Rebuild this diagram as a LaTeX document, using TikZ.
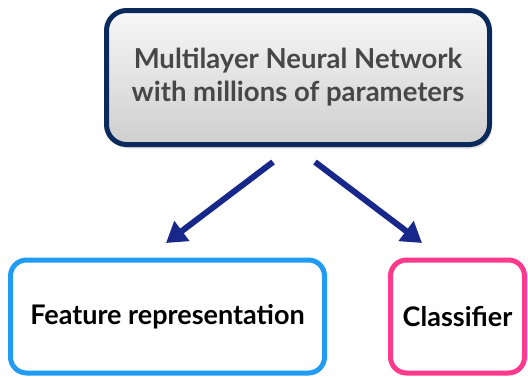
\documentclass[tikz,border=0pt]{standalone}
\usepackage{fontspec}
\setmainfont{Lato}
\usepackage{tikz}
\usetikzlibrary{arrows.meta, shadows, positioning}

\definecolor{navyborder}{HTML}{0B2A5C}
\definecolor{arrowblue}{HTML}{18288A}
\definecolor{featblue}{HTML}{229BF5}
\definecolor{classpink}{HTML}{FF3A8C}
\definecolor{textgray}{HTML}{474747}

\tikzset{
  netbox/.style={draw=navyborder, line width=5pt, rounded corners=20pt,
    top color=gray!6, bottom color=gray!38, drop shadow={opacity=0.25,
    shadow xshift=2pt, shadow yshift=-4pt},
    minimum width=383pt, minimum height=134pt, align=center,
    text=textgray, font=\fontsize{27.5}{33}\selectfont\bfseries},
  partbox/.style={line width=5pt, rounded corners=16pt, fill=white,
    minimum height=113pt, font=\fontsize{27}{30}\selectfont\bfseries},
  splitarrow/.style={draw=arrowblue, line width=6pt,
    -{Triangle[length=20pt, width=24pt]}}
}

\begin{document}
\begin{tikzpicture}[x=1pt, y=-1pt]
        % Cadre de l'image
        \useasboundingbox (0,0) rectangle (528,376);
        \clip (0,0) rectangle (528,376);

        % Reseau principal
        \node[netbox] (net) at (298,77.5) {Multilayer Neural Network\\with millions of parameters};

        % Les deux parties
        \node[partbox, draw=featblue, minimum width=314pt] (feat) at (167.5,316.5) {Feature representation};
        \node[partbox, draw=classpink, minimum width=134pt] (clf) at (457.5,316.5) {Classifier};

        % Points de depart et d'arrivee des fleches
        \coordinate (featstart) at (273,162);
        \coordinate (featend) at (166,243);
        \coordinate (clfstart) at (315,162);
        \coordinate (clfend) at (422,243);

        % Fleches
        \draw[splitarrow] (featstart) -- (featend);
        \draw[splitarrow] (clfstart) -- (clfend);

    \end{tikzpicture}
\end{document}
